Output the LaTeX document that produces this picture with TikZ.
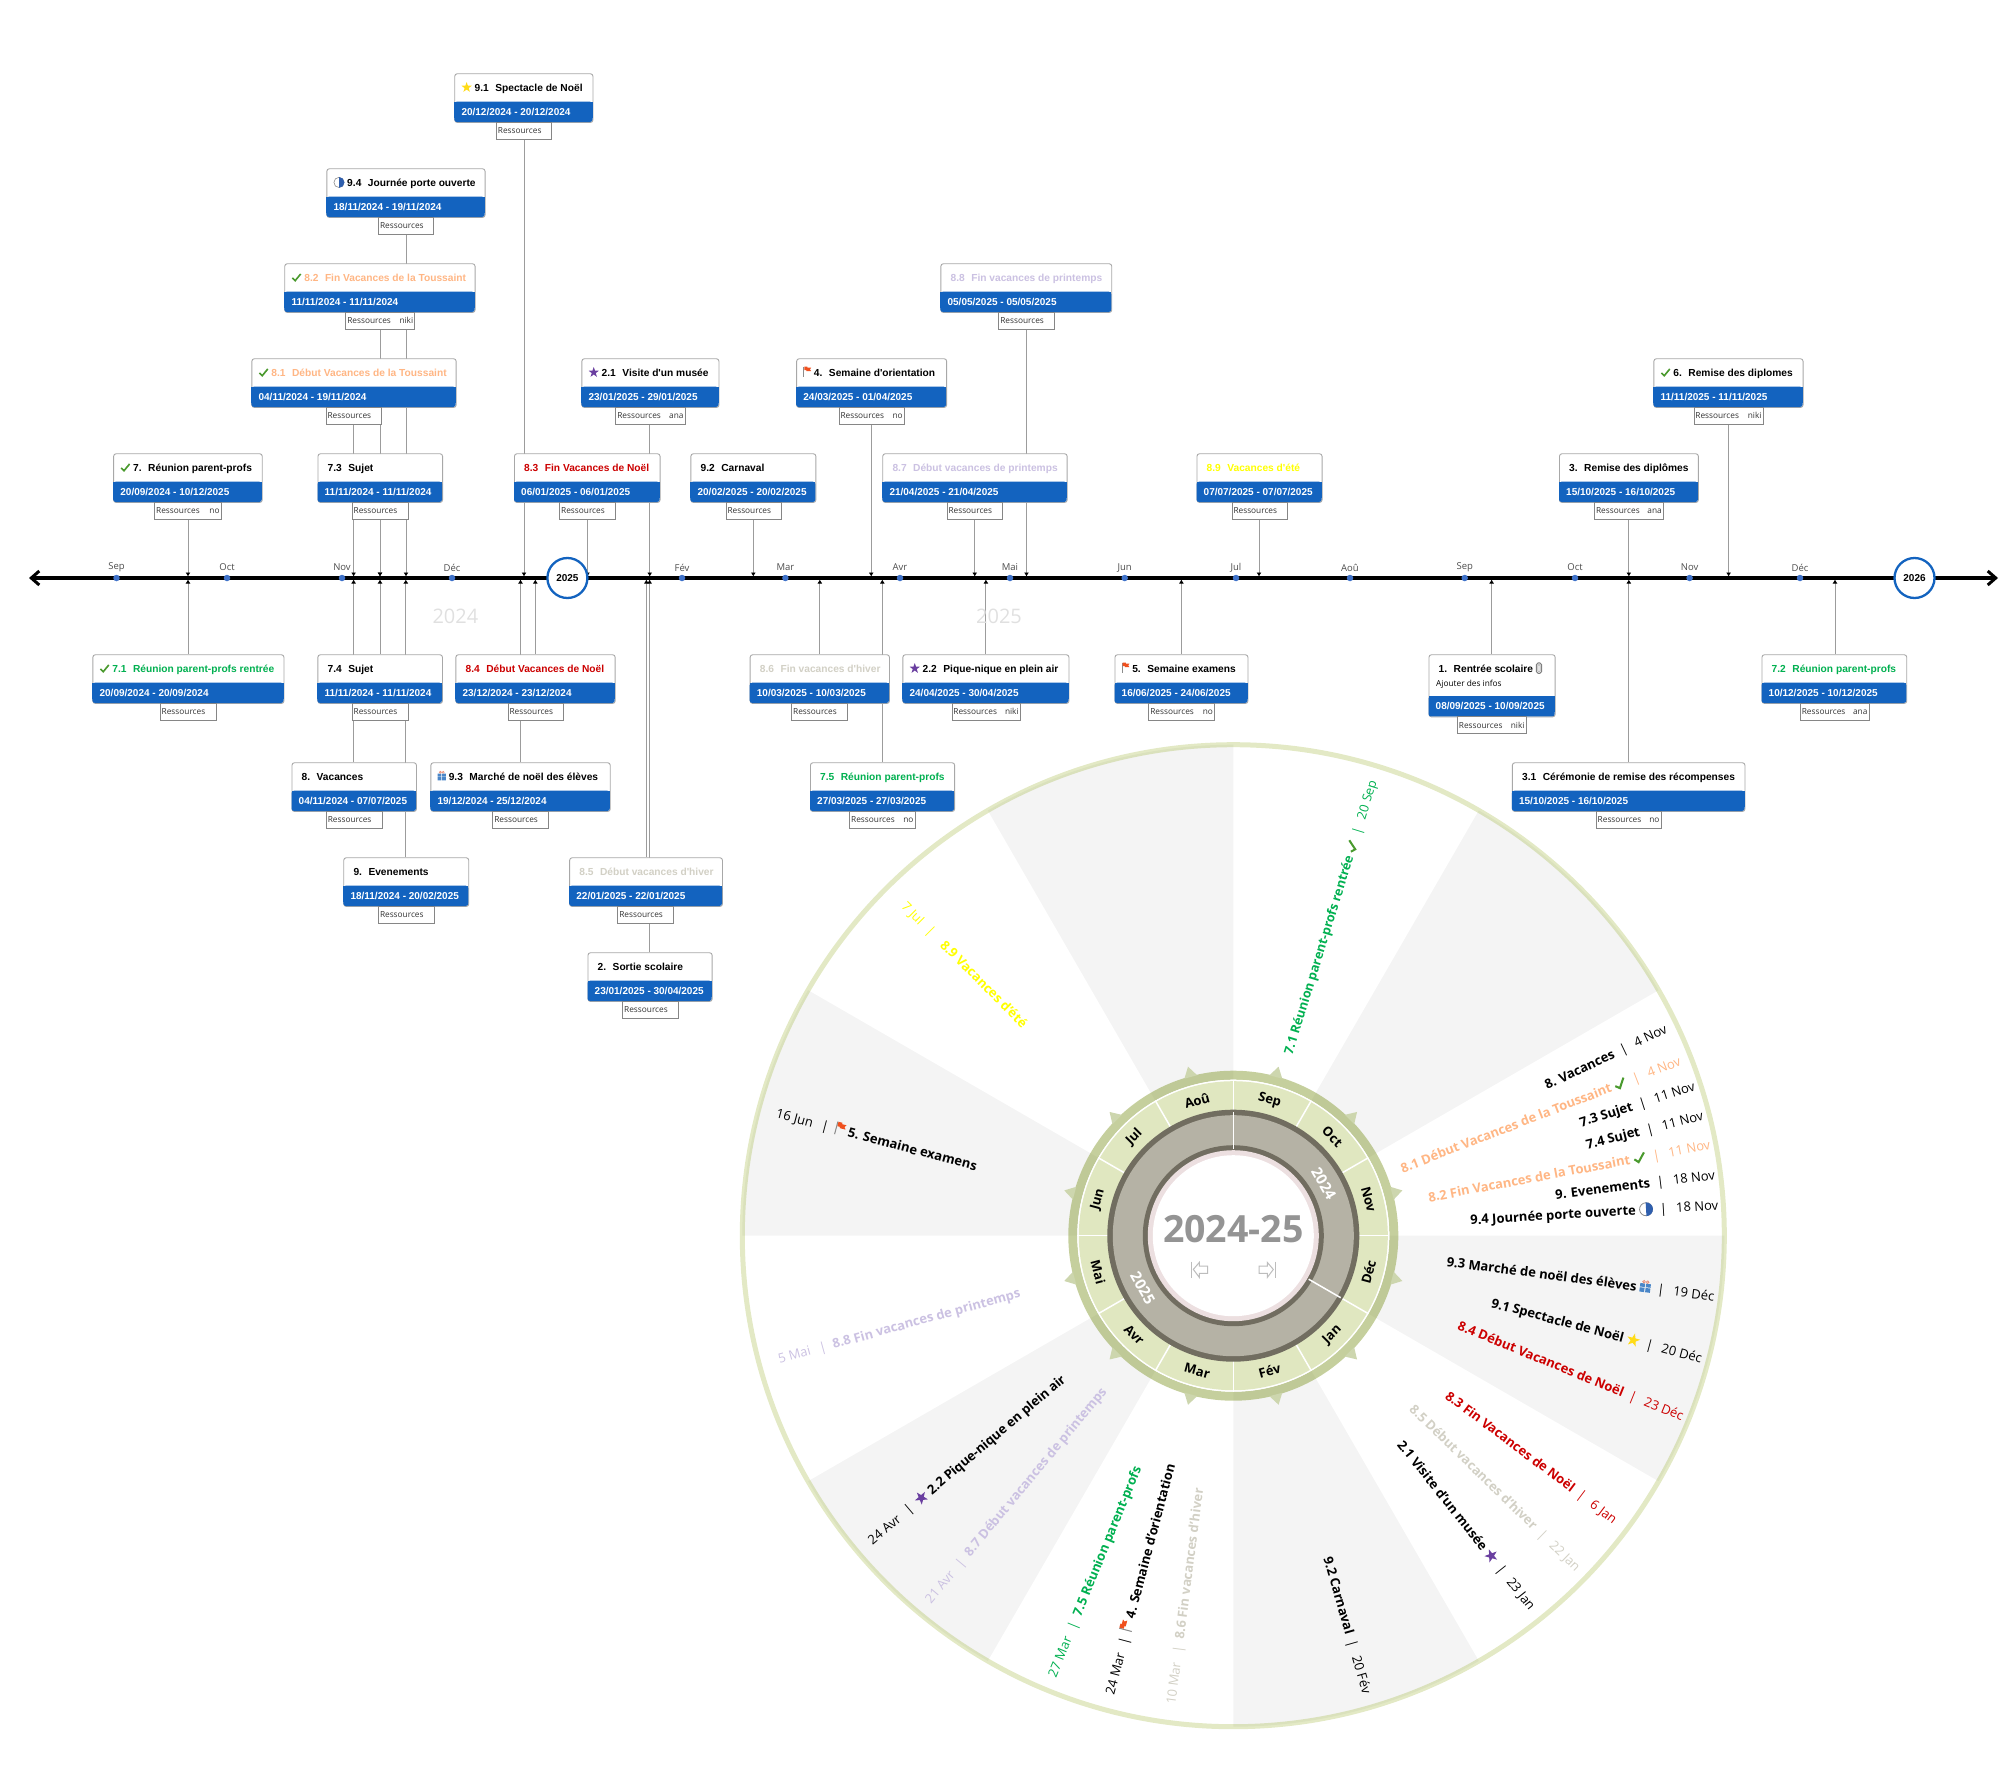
\documentclass[tikz,border=0pt]{standalone}
\usepackage{fontspec}
\usepackage{xcolor}
\usetikzlibrary{arrows.meta,backgrounds}
\setmainfont{Open Sans}
\newfontfamily\cardf{Liberation Sans}
\definecolor{dateblue}{HTML}{1363BF}
\definecolor{cardline}{HTML}{A8A8A8}
\definecolor{conline}{HTML}{9C9C9C}
\definecolor{ticky}{HTML}{3F72C9}
\definecolor{chk}{HTML}{4A9A2E}
\definecolor{starp}{HTML}{6A3FA0}
\definecolor{stary}{HTML}{FFDB17}
\definecolor{halfb}{HTML}{2F5FAE}
\definecolor{flagr}{HTML}{F0501E}
\definecolor{giftb}{HTML}{4A86C8}
\definecolor{bowr}{HTML}{E8907A}
\definecolor{clipg}{HTML}{808080}
\definecolor{cgreen}{HTML}{00B050}
\definecolor{cpeach}{HTML}{FFB684}
\definecolor{cred}{HTML}{CC0000}
\definecolor{ctan}{HTML}{D2D0C5}
\definecolor{clav}{HTML}{CBC1E2}
\definecolor{cyel}{HTML}{FFFF00}
\definecolor{secgray}{HTML}{F4F4F4}
\definecolor{ringa}{RGB}{150,175,40}
\definecolor{ringb}{RGB}{140,160,60}
\definecolor{monthg}{HTML}{E0E7C0}
\definecolor{darkr}{HTML}{716D60}
\definecolor{yearr}{HTML}{B5B2A5}
\definecolor{pinkr}{HTML}{ECDFE0}
\definecolor{trig}{HTML}{CDD6AE}
\definecolor{navg}{HTML}{BDBDBD}
\newcommand\Chk{\tikz[x=1em,y=1em,baseline=0pt]{\draw[chk,line width=.16em,line cap=butt,line join=miter] (0,.33)--(.28,.06)--(.82,.72);}}
\newcommand\IconStar[1]{\tikz[x=1em,y=1em,baseline=-.38em]{\fill[#1] (90:.53) -- (126:.21) -- (162:.53) -- (198:.21) -- (234:.53) -- (270:.21) -- (306:.53) -- (342:.21) -- (18:.53) -- (54:.21) -- cycle;}}
\newcommand\StarP{\IconStar{starp}}
\newcommand\StarY{\IconStar{stary}}
\newcommand\HalfC{\tikz[x=1em,y=1em,baseline=-.38em]{\draw[black!45,fill=white,line width=.06em] (0,0) circle[radius=.5]; \fill[halfb] (0,.53) arc[start angle=90,end angle=-90,radius=.53] -- cycle;}}
\newcommand\FlagR{\tikz[x=1em,y=1em,baseline=0pt]{\draw[black!45,line width=.08em] (0,-.05) -- (0,.95); \fill[flagr] (.05,.95) -- (.36,.95) -- (.36,.84) -- (.72,.84) -- (.6,.68) -- (.72,.5) -- (.26,.5) -- (.26,.6) -- (.05,.6) -- cycle;}}
\newcommand\Gift{\tikz[x=1em,y=1em,baseline=0pt]{\fill[giftb] (0,0) rectangle (.37,.33) (.45,0) rectangle (.82,.33) (0,.39) rectangle (.37,.66) (.45,.39) rectangle (.82,.66); \draw[bowr,line width=.06em] (.27,.79) circle[radius=.1] (.55,.79) circle[radius=.1];}}
\newcommand\Clip{\tikz[x=1em,y=1em,baseline=0pt]{\draw[clipg,line width=.1em,rounded corners=.18em] (0,-.1) rectangle (.5,.92); \draw[clipg!60,line width=.08em,rounded corners=.1em] (.14,.05) rectangle (.36,.75);}}
\newcommand\NN{\hspace*{6.5pt}}
\newcommand\NI{\hspace*{3pt}}
\def\ExH{0}
\tikzset{
  cardbox/.style={draw=cardline,fill=white,line width=.9pt,rounded corners=2.5pt,inner sep=0pt},
  ctitle/.style={anchor=west,inner sep=0pt,font=\cardf\bfseries\fontsize{10.2}{12}\selectfont,text height=8pt,text depth=2pt},
  cdate/.style={anchor=west,inner sep=0pt,text=white,font=\cardf\bfseries\fontsize{10}{12}\selectfont,text height=8pt,text depth=2pt},
  resbox/.style={draw=cardline!80!black,fill=white,line width=.8pt,inner sep=0pt,anchor=north west,minimum height=16.6pt,font=\fontsize{8.3}{9}\selectfont,text=black!80},
  conn/.style={draw=conline,line width=.9pt,-{Latex[length=4pt,width=5pt,color=black]}},
  tickdot/.style={circle,fill=ticky,inner sep=0pt,minimum size=6.5pt},
  ticklab/.style={inner sep=0pt,font=\fontsize{9.5}{11}\selectfont,text=black!70},
  yearcirc/.style={circle,draw=dateblue,fill=white,line width=2.3pt,minimum size=40pt,inner sep=0pt,font=\cardf\bfseries\fontsize{10}{12}\selectfont},
  bigyear/.style={inner sep=0pt,font=\fontsize{20}{24}\selectfont,text=black!12},
  mlabel/.style={inner sep=0pt,font=\bfseries\fontsize{13}{15}\selectfont},
  ylabel/.style={inner sep=0pt,font=\bfseries\fontsize{15}{17}\selectfont,text=white},
  wlabel/.style={inner sep=0pt,font=\fontsize{13}{15}\selectfont,text height=9.5pt,text depth=3.5pt},
}
\newcommand\Card[9]{%
  \pgfmathsetmacro\CW{#3-#2}%
  \pgfmathsetmacro\CH{48.7+\ExH}%
  \pgfmathsetmacro\CM{#4+28.4+\ExH}%
  \pgfmathsetmacro\CB{#4+\CH}%
  \pgfmathsetmacro\RW{#8-#7}%
  \pgfmathsetmacro\TX{#2+7}%
  \pgfmathsetmacro\TY{#4+15}%
  \pgfmathsetmacro\DY{\CB-9.8}%
  \pgfmathsetmacro\RI{\RW-3}%
  \node[cardbox,minimum width=\CW pt,minimum height=\CH pt,anchor=north west] (#1) at (#2,#4) {};
  \fill[dateblue,rounded corners=2.5pt] (#2,\CM) rectangle (#3,\CB);
  \fill[dateblue] (#2,\CM) rectangle (#3,\CB-4);
  \node[ctitle] (#1t) at (\TX,\TY) {#5};
  \node[cdate] (#1d) at (\TX,\DY) {#6};
  \node[resbox,minimum width=\RW pt] (#1r) at (#7,\CB) {\makebox[\RI pt]{Ressources\hfill #9}};
}
\newcommand\ConA[3]{\coordinate (#1) at (#3,576.5); \draw[conn] (#2 -| #1) -- (#1);}
\newcommand\ConB[3]{\coordinate (#1) at (#3,579.5); \draw[conn] (#2 -| #1) -- (#1);}
\newcommand\Mon[3]{\node[tickdot] (#1) at (#2,578) {}; \node[ticklab] (#1l) at (#2,567.5) {#3};}
\newcommand\Rt[2]{{\bfseries #1}\hspace{7pt}|\hspace{9pt}#2}
\newcommand\Lt[2]{#1\hspace{9pt}|\hspace{7pt}{\bfseries #2}}
\newcommand\WR[5][black]{\node[wlabel,text=#1,anchor=east,rotate=#3] (#2) at (#3:#4) {#5};}
\newcommand\WL[5][black]{\node[wlabel,text=#1,anchor=west,rotate=#3+180] (#2) at (#3:#4) {#5};}
\begin{document}
\begin{tikzpicture}[x=1pt,y=-1pt]
\useasboundingbox (0,0) rectangle (2000,1769);
% axis
\coordinate (axL) at (29,578);
\coordinate (axR) at (1998,578);
\draw[black,line width=3.2pt,{Straight Barb[length=8pt,width=14pt,line width=3pt]}-{Straight Barb[length=8pt,width=14pt,line width=3pt]}] (axL) -- (axR);
\Mon{m1}{116.5}{Sep}\Mon{m2}{227}{Oct}\Mon{m3}{342}{Nov}\Mon{m4}{452}{Déc}
\Mon{m5}{682}{Fév}\Mon{m6}{785.4}{Mar}\Mon{m7}{900}{Avr}\Mon{m8}{1010}{Mai}
\Mon{m9}{1124.7}{Jun}\Mon{m10}{1236}{Jul}\Mon{m11}{1350}{Aoû}\Mon{m12}{1464.7}{Sep}
\Mon{m13}{1575}{Oct}\Mon{m14}{1689.6}{Nov}\Mon{m15}{1800}{Déc}
\node[yearcirc] (y25) at (567.4,578) {2025};
\node[yearcirc] (y26) at (1914.5,578) {2026};
\node[bigyear] (by24) at (455.4,616.5) {2024};
\node[bigyear] (by25) at (999,616.5) {2025};
% cards above
\Card{n91}{454.3}{592.5}{73.3}{\StarY\ 9.1\NN Spectacle de Noël}{20/12/2024 - 20/12/2024}{496}{551.4}{}
\Card{n94}{326.4}{484.6}{168.3}{\HalfC\ 9.4\NN Journée porte ouverte}{18/11/2024 - 19/11/2024}{378.2}{433.2}{}
\Card{n82}{284.3}{474.6}{263.3}{\Chk\ \textcolor{cpeach}{8.2\NN Fin Vacances de la Toussaint}}{11/11/2024 - 11/11/2024}{345.4}{414.3}{niki}
\Card{n81}{251.4}{455.7}{358.3}{\Chk\ \textcolor{cpeach}{8.1\NN Début Vacances de la Toussaint}}{04/11/2024 - 19/11/2024}{325.7}{381}{}
\Card{n7}{113.2}{261.8}{453.3}{\Chk\ 7.\NN Réunion parent-profs}{20/09/2024 - 10/12/2025}{154.3}{220.7}{no}
\Card{n73}{317.5}{442.1}{453.3}{\NI 7.3\NN Sujet}{11/11/2024 - 11/11/2024}{351.8}{407.5}{}
\Card{n83}{514}{659.6}{453.3}{\NI\textcolor{cred}{8.3\NN Fin Vacances de Noël}}{06/01/2025 - 06/01/2025}{559.3}{614.6}{}
\Card{n21}{581.4}{718.5}{358.3}{\StarP\ 2.1\NN Visite d'un musée}{23/01/2025 - 29/01/2025}{615.4}{684.6}{ana}
\Card{n92}{690.4}{815.4}{453.3}{\NI 9.2\NN Carnaval}{20/02/2025 - 20/02/2025}{725.6}{780.5}{}
\Card{n4}{796.2}{946.2}{358.3}{\FlagR\ 4.\NN Semaine d'orientation}{24/03/2025 - 01/04/2025}{838.6}{903.8}{no}
\Card{n88}{940.4}{1111.3}{263.3}{\NI\textcolor{clav}{8.8\NN Fin vacances de printemps}}{05/05/2025 - 05/05/2025}{998.4}{1053.7}{}
\Card{n87}{882.3}{1066.7}{453.3}{\NI\textcolor{clav}{8.7\NN Début vacances de printemps}}{21/04/2025 - 21/04/2025}{946.6}{1002.4}{}
\Card{n89}{1196.5}{1321.6}{453.3}{\NI\textcolor{cyel}{8.9\NN Vacances d'été}}{07/07/2025 - 07/07/2025}{1231.6}{1286.5}{}
\Card{n6}{1653.4}{1802.6}{358.3}{\Chk\ 6.\NN Remise des diplomes}{11/11/2025 - 11/11/2025}{1693.5}{1762.6}{niki}
\Card{n3}{1559}{1697.9}{453.3}{\NI 3.\NN Remise des diplômes}{15/10/2025 - 16/10/2025}{1594.2}{1662.8}{ana}
% cards below
\Card{n71}{92.4}{283.5}{654.3}{\Chk\ \textcolor{cgreen}{7.1\NN Réunion parent-profs rentrée}}{20/09/2024 - 20/09/2024}{159.8}{215.6}{}
\Card{n74}{317.4}{442}{654.3}{\NI 7.4\NN Sujet}{11/11/2024 - 11/11/2024}{351.8}{407.6}{}
\Card{n84}{455.4}{614.7}{654.3}{\NI\textcolor{cred}{8.4\NN Début Vacances de Noël}}{23/12/2024 - 23/12/2024}{507.6}{562.5}{}
\Card{n8}{291.5}{416}{762.3}{\NI 8.\NN Vacances}{04/11/2024 - 07/07/2025}{325.9}{381.7}{}
\Card{n93}{430.4}{609.8}{762.3}{\Gift\ 9.3\NN Marché de noël des élèves}{19/12/2024 - 25/12/2024}{492.4}{547.8}{}
\Card{n9}{343.3}{468.3}{857.3}{\NI 9.\NN Evenements}{18/11/2024 - 20/02/2025}{378.1}{433.5}{}
\Card{n85}{569.2}{722}{857.3}{\NI\textcolor{ctan}{8.5\NN Début vacances d'hiver}}{22/01/2025 - 22/01/2025}{617.4}{672.8}{}
\Card{n2}{587.5}{711.7}{952.3}{\NI 2.\NN Sortie scolaire}{23/01/2025 - 30/04/2025}{622.3}{677.7}{}
\Card{n86}{749.7}{889}{654.3}{\NI\textcolor{ctan}{8.6\NN Fin vacances d'hiver}}{10/03/2025 - 10/03/2025}{791.3}{846.6}{}
\Card{n22}{902.4}{1068.5}{654.3}{\StarP\ 2.2\NN Pique-nique en plein air}{24/04/2025 - 30/04/2025}{951.5}{1019.8}{niki}
\Card{n5}{1114.5}{1247.5}{654.3}{\FlagR\ 5.\NN Semaine examens}{16/06/2025 - 24/06/2025}{1148.4}{1214}{no}
\Card{n75}{810}{954.2}{762.3}{\NI\textcolor{cgreen}{7.5\NN Réunion parent-profs}}{27/03/2025 - 27/03/2025}{849.3}{914.5}{no}
{\def\ExH{13.4}\Card{n1}{1428.5}{1554.7}{654.3}{\NI 1.\NN Rentrée scolaire \Clip}{08/09/2025 - 10/09/2025}{1457}{1525.6}{niki}}
\node[inner sep=0pt,anchor=west,font=\fontsize{8.3}{9}\selectfont] (n1x) at (1436,684) {Ajouter des infos};
\Card{n31}{1511.9}{1744.5}{762.3}{\NI 3.1\NN Cérémonie de remise des récompenses}{15/10/2025 - 16/10/2025}{1595.8}{1660.6}{no}
\Card{n72}{1761.5}{1906.3}{654.3}{\NI\textcolor{cgreen}{7.2\NN Réunion parent-profs}}{10/12/2025 - 10/12/2025}{1799.9}{1868.5}{ana}
% connectors
\begin{scope}[on background layer]
\ConA{a91}{n91r.south}{524}
\ConA{a94}{n94r.south}{406}
\ConA{a82}{n82r.south}{380}
\ConA{a81}{n81r.south}{353.6}
\ConA{a7}{n7r.south}{188}
\ConA{a73}{n73r.south}{380}
\ConA{a83}{n83r.south}{587.5}
\ConA{a21}{n21r.south}{649.7}
\ConA{a92}{n92r.south}{753.3}
\ConA{a4}{n4r.south}{871.2}
\ConA{a88}{n88r.south}{1026.5}
\ConA{a87}{n87r.south}{974.7}
\ConA{a89}{n89r.south}{1259}
\ConA{a6}{n6r.south}{1728.6}
\ConA{a3}{n3r.south}{1628.8}
\ConB{b71}{n71.north}{188}
\ConB{b74}{n74.north}{380}
\ConB{b8}{n8.north}{353.6}
\ConB{b9}{n9.north}{405.8}
\ConB{b84}{n84.north}{535.3}
\ConB{b93}{n93.north}{520.5}
\ConB{b85}{n85.north}{646.4}
\ConB{b2}{n2.north}{649.6}
\ConB{b86}{n86.north}{819.8}
\ConB{b75}{n75.north}{882.3}
\ConB{b22}{n22.north}{985.9}
\ConB{b5}{n5.north}{1181.4}
\ConB{b1}{n1.north}{1491.6}
\ConB{b31}{n31.north}{1628.8}
\ConB{b72}{n72.north}{1835}
\end{scope}
% wheel
\begin{scope}[shift={(1233.3,1235.7)},x=1pt,y=1pt]
\foreach \a in {60,0,-60,-120,180,120}{
  \pgfmathsetmacro\b{\a-30}
  \fill[secgray] (0,0) -- (\a:491) arc[start angle=\a,end angle=\b,radius=491] -- cycle;
}
\draw[ringa,opacity=.27,line width=5pt] (0,0) circle[radius=491];
\draw[ringb,opacity=.5,line width=9pt] (0,0) circle[radius=160.5];
\foreach \a in {15,45,...,345}{
  \fill[trig] (\a-2.3:164.5) -- (\a:175) -- (\a+2.3:164.5) -- cycle;
}
\fill[white] (0,0) circle[radius=156];
\fill[monthg] (0,0) circle[radius=154.5];
\foreach \a in {0,30,...,330}{
  \draw[white,line width=1.5pt] (\a:124) -- (\a:156);
}
\fill[darkr] (0,0) circle[radius=126];
\fill[yearr] (0,0) circle[radius=120.5];
\fill[darkr] (0,0) circle[radius=90.5];
\fill[pinkr] (0,0) circle[radius=85.5];
\fill[white] (0,0) circle[radius=80.5];
\draw[white,line width=1.5pt] (90:87) -- (90:124);
\draw[white,line width=1.5pt] (-30:87) -- (-30:124);
\node[mlabel,rotate=-15] (wSep) at (75:140) {Sep};
\node[mlabel,rotate=-45] (wOct) at (45:140) {Oct};
\node[mlabel,rotate=-75] (wNov) at (15:140) {Nov};
\node[mlabel,rotate=75] (wDec) at (-15:140) {Déc};
\node[mlabel,rotate=45] (wJan) at (-45:140) {Jan};
\node[mlabel,rotate=15] (wFev) at (-75:140) {Fév};
\node[mlabel,rotate=-15] (wMar) at (-105:140) {Mar};
\node[mlabel,rotate=-45] (wAvr) at (-135:140) {Avr};
\node[mlabel,rotate=-75] (wMai) at (-165:140) {Mai};
\node[mlabel,rotate=75] (wJun) at (165:140) {Jun};
\node[mlabel,rotate=45] (wJul) at (135:140) {Jul};
\node[mlabel,rotate=15] (wAou) at (105:140) {Aoû};
\node[ylabel,rotate=-60] (wy24) at (30:104.5) {2024};
\node[ylabel,rotate=-60] (wy25) at (210:104.5) {2025};
\node[inner sep=0pt,text=black!42,font=\bfseries\fontsize{37.5}{40}\selectfont] (wTitle) at (0,6.7) {2024-25};
\draw[navg,line width=1pt,line join=miter] (-41.7,-26) -- (-41.7,-42);
\draw[navg,line width=1pt] (-40,-33.7) -- (-34,-26.7) -- (-34,-30.3) -- (-25.7,-30.3) -- (-25.7,-37.7) -- (-34,-37.7) -- (-34,-41.7) -- cycle;
\draw[navg,line width=1pt] (41.7,-26) -- (41.7,-42);
\draw[navg,line width=1pt] (40,-33.7) -- (34,-26.7) -- (34,-30.3) -- (25.7,-30.3) -- (25.7,-37.7) -- (34,-37.7) -- (34,-41.7) -- cycle;
% radial labels, right half
\WR{w1}{25.4}{480}{\Rt{8. Vacances}{4 Nov}}
\WR[cpeach]{w2}{21.2}{480}{\Rt{8.1 Début Vacances de la Toussaint \Chk}{4 Nov}}
\WR{w3}{17.8}{485}{\Rt{7.3 Sujet}{11 Nov}}
\WR{w4}{14.2}{485}{\Rt{7.4 Sujet}{11 Nov}}
\WR[cpeach]{w5}{10.6}{485.5}{\Rt{8.2 Fin Vacances de la Toussaint \Chk}{11 Nov}}
\WR{w6}{7}{485.5}{\Rt{9. Evenements}{18 Nov}}
\WR{w7}{3.4}{486}{\Rt{9.4 Journée porte ouverte \HalfC}{18 Nov}}
\WR{w8}{-7.4}{485}{\Rt{9.3 Marché de noël des élèves \Gift}{19 Déc}}
\WR{w9}{-14.9}{484.5}{\Rt{9.1 Spectacle de Noël \StarY}{20 Déc}}
\WR[cred]{w10}{-22.1}{485}{\Rt{8.4 Début Vacances de Noël}{23 Déc}}
\WR[cred]{w11}{-36.9}{477}{\Rt{8.3 Fin Vacances de Noël}{6 Jan}}
\WR[ctan]{w12}{-44.2}{480}{\Rt{8.5 Début vacances d'hiver}{22 Jan}}
\WR{w13}{-51.4}{478}{\Rt{2.1 Visite d'un musée \StarP}{23 Jan}}
\WR{w14}{-73.9}{476.8}{\Rt{9.2 Carnaval}{20 Fév}}
\WR[cgreen]{w15}{72.8}{476}{\fontsize{12.7}{15}\selectfont\Rt{7.1 Réunion parent-profs rentrée \Chk}{20 Sep}}
% radial labels, left half
\WL[ctan]{w16}{-97.4}{473}{\Lt{10 Mar}{8.6 Fin vacances d'hiver}}
\WL{w17}{-104.9}{475}{\Lt{24 Mar}{\FlagR\ 4. Semaine d'orientation}}
\WL[cgreen]{w18}{-112.2}{476.7}{\Lt{27 Mar}{7.5 Réunion parent-profs}}
\WL[clav]{w19}{-129.7}{477}{\Lt{21 Avr}{8.7 Début vacances de printemps}}
\WL{w20}{-139.7}{475.7}{\Lt{24 Avr}{\StarP\ 2.2 Pique-nique en plein air}}
\WL[clav]{w21}{-164.6}{471.5}{\Lt{5 Mai}{8.8 Fin vacances de printemps}}
\WL{w22}{165.2}{473}{\Lt{16 Jun}{\FlagR\ 5. Semaine examens}}
\WL[cyel]{w23}{135}{467.5}{\Lt{7 Jul}{\hspace*{6pt}8.9 Vacances d'été}}
\end{scope}
\end{tikzpicture}
\end{document}
